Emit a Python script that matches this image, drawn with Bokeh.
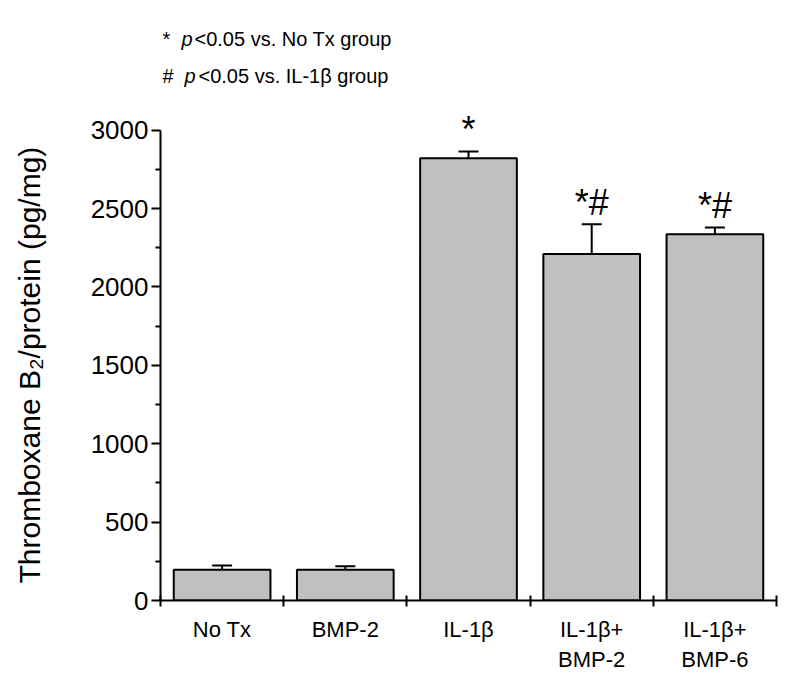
from bokeh.plotting import figure
from bokeh.models import (ColumnDataSource, Range1d, FixedTicker, Whisker, TeeHead, Label, Title)
from bokeh.core.properties import value
from bokeh.embed import file_html
from bokeh.resources import INLINE

# ---- data ----
categories = ["No Tx", "BMP-2", "IL-1β", "IL-1β+\nBMP-2", "IL-1β+\nBMP-6"]
means = [196, 196, 2821, 2210, 2336]
sems = [27, 23, 44, 191, 44]
sig_marks = ["", "", "*", "*#", "*#"]
y_ticks = [0, 500, 1000, 1500, 2000, 2500, 3000]
y_minor = [250, 750, 1250, 1750, 2250, 2750]
y_title = "Thromboxane B₂/protein (pg/mg)"
notes = [("* ", "p", "<0.05 vs. No Tx group"), ("# ", "p", "<0.05 vs. IL-1β group")]

FONT = "Liberation Sans"
n = len(categories)
centers = [i + 0.5 for i in range(n)]
uppers = [m + s for m, s in zip(means, sems)]

src = ColumnDataSource(dict(x=centers, top=means, upper=uppers, sig=sig_marks))

p = figure(width=792, height=685, output_backend="svg", toolbar_location=None,
           x_range=Range1d(0, n), y_range=Range1d(0, 3700),
           min_border_left=160, min_border_right=16, min_border_top=20, min_border_bottom=85)
p.outline_line_color = None
p.grid.visible = False
p.background_fill_color = "white"
p.border_fill_color = "white"

p.vbar(x="x", top="top", bottom=0, width=0.785, source=src,
       fill_color="#c0c0c0", line_color="black", line_width=2)

p.add_layout(Whisker(source=src, base="x", upper="upper", lower="top",
                     upper_head=TeeHead(size=20, line_width=2, line_color="black"),
                     lower_head=None, line_width=2, line_color="black"))

p.text(x="x", y="upper", text="sig", source=src, text_align="center",
       text_baseline="alphabetic", y_offset=-22, text_color="black",
       text_font=value(FONT), text_font_size="36px")

# x axis
xa = p.xaxis[0]
xa.ticker = FixedTicker(ticks=centers, minor_ticks=list(range(n + 1)))
xa.major_label_overrides = {c: lab for c, lab in zip(centers, categories)}
xa.major_tick_line_color = None
xa.major_tick_in = 0
xa.major_tick_out = 0
xa.minor_tick_in = 5
xa.minor_tick_out = 6
xa.minor_tick_line_width = 2
xa.minor_tick_line_color = "black"
xa.axis_line_width = 2
xa.axis_line_color = "black"
xa.major_label_text_font = FONT
xa.major_label_text_font_size = "22px"
xa.major_label_text_color = "black"
xa.major_label_standoff = 10

# y axis
ya = p.yaxis[0]
ya.ticker = FixedTicker(ticks=y_ticks, minor_ticks=y_minor)
ya.bounds = (y_ticks[0], y_ticks[-1])
ya.major_tick_in = 0
ya.major_tick_out = 9
ya.minor_tick_in = 0
ya.minor_tick_out = 5
ya.major_tick_line_width = 2
ya.minor_tick_line_width = 2
ya.major_tick_line_color = "black"
ya.minor_tick_line_color = "black"
ya.axis_line_width = 2
ya.axis_line_color = "black"
ya.major_label_text_font = FONT
ya.major_label_text_font_size = "26px"
ya.major_label_text_color = "black"
ya.major_label_standoff = 3

# blank spacer panel between the tick labels and the y title
p.add_layout(Title(text=" ", text_font_size="1px", standoff=39), "left")
# y axis title as a side title, starting near the bottom of the axis
p.add_layout(Title(text=y_title, align="left", offset=17, standoff=0,
                   text_font=FONT, text_font_size="30px", text_font_style="normal",
                   text_color="black"), "left")

# significance notes at top
note_y = [3585, 3343]
offsets = [(2, 21, 34), (2, 24, 38)]
for (a, b, c), yy, (o1, o2, o3) in zip(notes, note_y, offsets):
    for txt, off, style in ((a, o1, "normal"), (b, o2, "italic"), (c, o3, "normal")):
        p.add_layout(Label(x=0, y=yy, x_offset=off, text=txt, text_font=FONT,
                           text_font_size="20px", text_font_style=style,
                           text_color="black", text_baseline="alphabetic"))

open("out.html", "w").write(file_html(p, INLINE))
